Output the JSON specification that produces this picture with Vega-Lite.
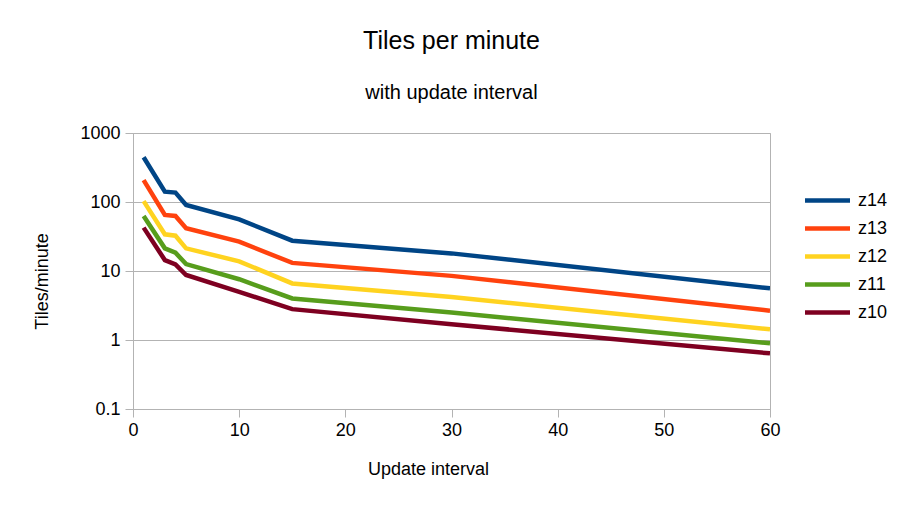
{
  "$schema": "https://vega.github.io/schema/vega-lite/v6.json",
  "autosize": "none",
  "width": 637,
  "height": 276,
  "padding": {"left": 133, "top": 133, "right": 138, "bottom": 102},
  "background": "white",
  "title": {
    "text": "Tiles per minute",
    "subtitle": "with update interval",
    "anchor": "middle",
    "frame": "group",
    "font": "Liberation Sans",
    "fontSize": 25,
    "fontWeight": "normal",
    "color": "#000000",
    "subtitleFont": "Liberation Sans",
    "subtitleFontSize": 20,
    "subtitleColor": "#000000",
    "subtitlePadding": 29,
    "offset": 21
  },
  "config": {
    "view": {"stroke": "#b3b3b3", "strokeWidth": 1},
    "axis": {
      "labelFont": "Liberation Sans",
      "titleFont": "Liberation Sans",
      "labelFontSize": 18,
      "titleFontSize": 18,
      "titleFontWeight": "normal",
      "labelColor": "#000000",
      "titleColor": "#000000",
      "domainColor": "#b3b3b3",
      "tickColor": "#b3b3b3",
      "gridColor": "#b3b3b3",
      "tickSize": 8,
      "labelFlush": false
    },
    "legend": {
      "labelFont": "Liberation Sans",
      "labelFontSize": 18,
      "labelColor": "#000000"
    }
  },
  "data": {
    "values": [
      {"interval": 1, "tiles": 445, "zoom": "z14"},
      {"interval": 3, "tiles": 141, "zoom": "z14"},
      {"interval": 4, "tiles": 137, "zoom": "z14"},
      {"interval": 5, "tiles": 90.6, "zoom": "z14"},
      {"interval": 10, "tiles": 56, "zoom": "z14"},
      {"interval": 15, "tiles": 27.5, "zoom": "z14"},
      {"interval": 30, "tiles": 18, "zoom": "z14"},
      {"interval": 60, "tiles": 5.6, "zoom": "z14"},
      {"interval": 1, "tiles": 208, "zoom": "z13"},
      {"interval": 3, "tiles": 65, "zoom": "z13"},
      {"interval": 4, "tiles": 62.7, "zoom": "z13"},
      {"interval": 5, "tiles": 41.6, "zoom": "z13"},
      {"interval": 10, "tiles": 26.6, "zoom": "z13"},
      {"interval": 15, "tiles": 13.1, "zoom": "z13"},
      {"interval": 30, "tiles": 8.5, "zoom": "z13"},
      {"interval": 60, "tiles": 2.66, "zoom": "z13"},
      {"interval": 1, "tiles": 103, "zoom": "z12"},
      {"interval": 3, "tiles": 34, "zoom": "z12"},
      {"interval": 4, "tiles": 32.5, "zoom": "z12"},
      {"interval": 5, "tiles": 21.3, "zoom": "z12"},
      {"interval": 10, "tiles": 13.8, "zoom": "z12"},
      {"interval": 15, "tiles": 6.6, "zoom": "z12"},
      {"interval": 30, "tiles": 4.2, "zoom": "z12"},
      {"interval": 60, "tiles": 1.43, "zoom": "z12"},
      {"interval": 1, "tiles": 62.7, "zoom": "z11"},
      {"interval": 3, "tiles": 21.3, "zoom": "z11"},
      {"interval": 4, "tiles": 18.4, "zoom": "z11"},
      {"interval": 5, "tiles": 12.6, "zoom": "z11"},
      {"interval": 10, "tiles": 7.6, "zoom": "z11"},
      {"interval": 15, "tiles": 4.0, "zoom": "z11"},
      {"interval": 30, "tiles": 2.5, "zoom": "z11"},
      {"interval": 60, "tiles": 0.895, "zoom": "z11"},
      {"interval": 1, "tiles": 42.5, "zoom": "z10"},
      {"interval": 3, "tiles": 14.4, "zoom": "z10"},
      {"interval": 4, "tiles": 12.5, "zoom": "z10"},
      {"interval": 5, "tiles": 8.75, "zoom": "z10"},
      {"interval": 10, "tiles": 5.0, "zoom": "z10"},
      {"interval": 15, "tiles": 2.8, "zoom": "z10"},
      {"interval": 30, "tiles": 1.69, "zoom": "z10"},
      {"interval": 60, "tiles": 0.64, "zoom": "z10"}
    ]
  },
  "mark": {"type": "line", "strokeWidth": 4.5, "clip": true},
  "encoding": {
    "x": {
      "field": "interval",
      "type": "quantitative",
      "scale": {"domain": [0, 60], "nice": false},
      "axis": {
        "title": "Update interval",
        "values": [0, 10, 20, 30, 40, 50, 60],
        "grid": false,
        "labelPadding": 4,
        "titlePadding": 21,
        "titleX": 295,
        "titleAlign": "center"
      }
    },
    "y": {
      "field": "tiles",
      "type": "quantitative",
      "scale": {"type": "log", "domain": [0.1, 1000], "nice": false},
      "axis": {
        "title": "Tiles/minute",
        "values": [0.1, 1, 10, 100, 1000],
        "format": "~g",
        "grid": true,
        "labelPadding": 5,
        "titlePadding": 28,
        "titleY": 148,
        "titleAlign": "center"
      }
    },
    "color": {
      "field": "zoom",
      "type": "nominal",
      "scale": {
        "domain": ["z14", "z13", "z12", "z11", "z10"],
        "range": ["#004586", "#ff420e", "#ffd320", "#579d1c", "#7e0021"]
      },
      "legend": {
        "title": null,
        "orient": "none",
        "legendX": 683,
        "legendY": 56,
        "symbolType": "M-2.5,0H2.5",
        "symbolSize": 324,
        "symbolStrokeWidth": 4.5,
        "labelOffset": 19,
        "rowPadding": 7
      }
    }
  }
}
